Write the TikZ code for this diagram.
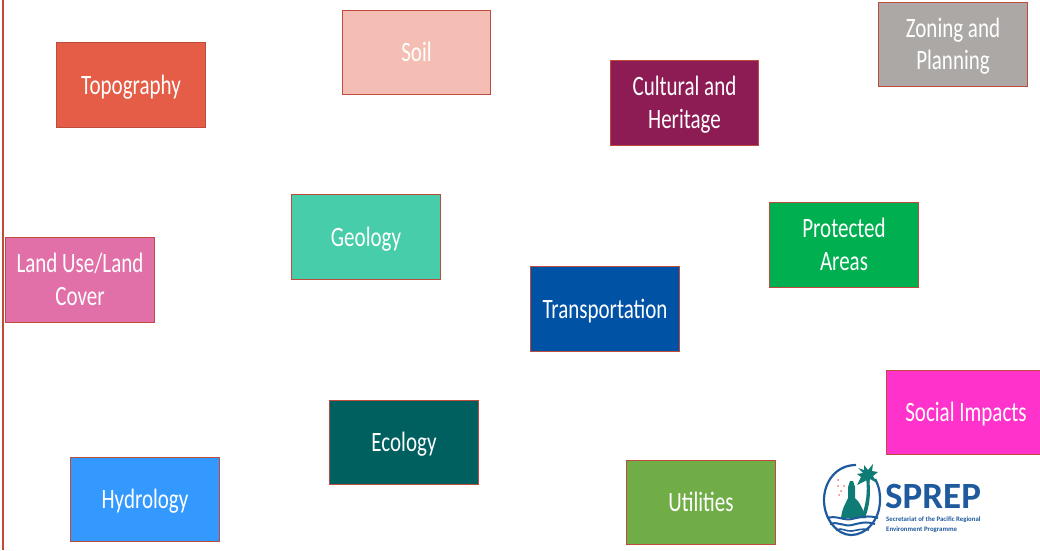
\documentclass[tikz,border=0pt]{standalone}
\usepackage{fontspec}
\setmainfont{Carlito}[FakeStretch=0.75]
\newfontfamily\logofont{Carlito}
\definecolor{edge}{HTML}{BE4B3C}
\definecolor{sprep}{HTML}{1F5A9E}
\definecolor{isle}{HTML}{0E7C74}
\newcommand\tl[1]{\raisebox{-2.5pt}[\height][\depth]{\begin{tabular}{@{}c@{}}#1\end{tabular}}}
\begin{document}
\begin{tikzpicture}[x=1pt,y=-1pt,
  tile/.style={draw=edge,line width=1pt,minimum width=148.5pt,minimum height=84.5pt,inner sep=0pt,align=center,text=white,font=\fontsize{28}{32.5}\selectfont}]
\useasboundingbox (0,0) rectangle (1040,550);
\fill[white] (0,0) rectangle (1040,550);
\draw[edge,line width=2pt] (2.5,0) -- (2.5,550);
\node[tile,fill={rgb,255:red,229;green,93;blue,70}] (topo) at (131,85) {\tl{Topography}};
\node[tile,fill={rgb,255:red,244;green,190;blue,180}] (soil) at (416.5,52.5) {\tl{Soil}};
\node[tile,fill={rgb,255:red,141;green,28;blue,84}] (cult) at (684.5,103) {\tl{Cultural and\\Heritage}};
\node[tile,fill={rgb,255:red,172;green,168;blue,166}] (zone) at (953,44.5) {\tl{Zoning and\\Planning}};
\node[tile,fill={rgb,255:red,71;green,205;blue,170}] (geo) at (366,237) {\tl{Geology}};
\node[tile,fill={rgb,255:red,0;green,176;blue,80}] (prot) at (844,245) {\tl{Protected\\Areas}};
\node[tile,fill={rgb,255:red,226;green,112;blue,168}] (land) at (80,280) {\tl{Land Use/Land\\Cover}};
\node[tile,fill={rgb,255:red,0;green,82;blue,165}] (trans) at (605,309) {\tl{Transportation}};
\node[tile,fill={rgb,255:red,255;green,51;blue,204},minimum width=160pt] (social) at (966,412.5) {\tl{Social Impacts}};
\node[tile,fill={rgb,255:red,0;green,95;blue,95}] (eco) at (404,442.5) {\tl{Ecology}};
\node[tile,fill={rgb,255:red,51;green,153;blue,255}] (hydro) at (145,499.5) {\tl{Hydrology}};
\node[tile,fill={rgb,255:red,112;green,173;blue,71}] (util) at (701,502.5) {\tl{Utilities}};
% logo
\draw[sprep,line width=2.2pt] (856,465) .. controls (836,465) and (824,482) .. (824,500) .. controls (824,520) and (838,535) .. (851,535) .. controls (866,535) and (880,520) .. (880,500) .. controls (880,490) and (878,484) .. (875,479);
\fill[isle] (841,518) .. controls (842,508) and (846,503) .. (848,498) -- (848,487) -- (850,481) -- (853,481) -- (855,487) -- (855,498) .. controls (860,502) and (863,510) .. (866,518) -- cycle;
\fill[isle] (861,518) .. controls (866,505) and (868,492) .. (866,478) -- (869,478) .. controls (871,492) and (870,505) .. (865,518) -- cycle;
\fill[isle] (867,480) -- (857,485) -- (861,477) -- (857,474) -- (863,473) -- (858,468) -- (864,470) -- (864,465) -- (868,470) -- (873,464) -- (872,471) -- (878,472) -- (873,476) -- (877,483) -- (870,479) -- (869,484) -- cycle;
\foreach \p in {(838,480),(844,486),(838,486),(839,495),(841,491)} \fill[red!55] \p circle (1pt);
\draw[sprep,line width=2pt] (827,518) .. controls (837,515) and (844,521) .. (852,519) .. controls (860,517) and (869,515) .. (878,518);
\draw[sprep,line width=2pt] (830,524) .. controls (838,521) and (844,527) .. (852,525) .. controls (860,523) and (866,521) .. (875,524);
\draw[sprep,line width=1.6pt] (836,530) .. controls (842,527) and (846,532) .. (852,531) .. controls (858,530) and (863,528) .. (869,530);
\node[inner sep=0pt,anchor=west,text=sprep,font=\logofont\fontsize{37}{37}\selectfont\bfseries] (logo) at (885,496) {SPREP};
\node[inner sep=0pt,anchor=north west,text=sprep,align=left,font=\logofont\fontsize{6.8}{10}\selectfont\bfseries] (logosub) at (886,517) {Secretariat of the Pacific Regional\\Environment Programme};
\end{tikzpicture}
\end{document}
